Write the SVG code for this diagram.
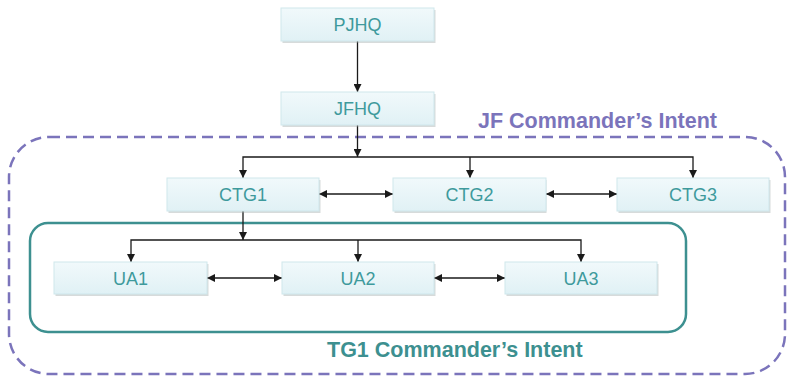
<svg xmlns="http://www.w3.org/2000/svg" width="787" height="376" viewBox="0 0 787 376">
<defs>
<linearGradient id="nodeFill" x1="0" y1="0" x2="0" y2="1">
<stop offset="0" stop-color="#f1f9fb"/>
<stop offset="1" stop-color="#e0f1f5"/>
</linearGradient>
<marker id="arr" viewBox="0 0 10 10" refX="10" refY="5" markerWidth="8" markerHeight="8" markerUnits="userSpaceOnUse" orient="auto-start-reverse">
<path d="M0,0 L10,5 L0,10 Z" fill="#1a1a1a"/>
</marker>
</defs>
<style>
.node rect.box{fill:url(#nodeFill);stroke:#cfe7ec;stroke-width:1}
.node rect.sh{fill:#9aa4a6;opacity:0.4}
.node text{font-family:"Liberation Sans",Arial,sans-serif;font-size:18px;fill:#3e9a9c;text-anchor:middle}
.conn path{fill:none;stroke:#1a1a1a;stroke-width:1.3}
.lbl{font-family:"Liberation Sans",Arial,sans-serif;font-size:21.5px;font-weight:bold}
</style>
<rect id="jf-boundary" x="9" y="137" width="776" height="237" rx="40" ry="40" fill="none" stroke="#7b74bb" stroke-width="2.5" stroke-dasharray="11 6"/>
<rect id="tg1-boundary" x="30" y="223" width="656" height="109" rx="18" ry="18" fill="none" stroke="#3d9090" stroke-width="2.5"/>
<text class="lbl" x="478" y="128" fill="#7b74bb">JF Commander’s Intent</text>
<text class="lbl" x="327" y="357" fill="#3d9090">TG1 Commander’s Intent</text>
<g id="connectors" class="conn">
<path d="M357.5,41 V92" marker-end="url(#arr)"/>
<path d="M357.5,125 V157" marker-end="url(#arr)"/>
<path d="M243,178 V157 H693 V178" marker-start="url(#arr)" marker-end="url(#arr)"/>
<path d="M470,157 V178" marker-end="url(#arr)"/>
<path d="M319,194 H393" marker-start="url(#arr)" marker-end="url(#arr)"/>
<path d="M546,194 H617" marker-start="url(#arr)" marker-end="url(#arr)"/>
<path d="M243,211 V240" marker-end="url(#arr)"/>
<path d="M131,262 V240 H581 V262" marker-start="url(#arr)" marker-end="url(#arr)"/>
<path d="M358,240 V262" marker-end="url(#arr)"/>
<path d="M207,278 H282" marker-start="url(#arr)" marker-end="url(#arr)"/>
<path d="M434,278 H505" marker-start="url(#arr)" marker-end="url(#arr)"/>
</g>
<g id="PJHQ" class="node"><rect class="sh" x="282.5" y="10" width="153" height="33"/><rect class="box" x="281" y="8" width="153" height="33"/><text x="357.5" y="31">PJHQ</text></g>
<g id="JFHQ" class="node"><rect class="sh" x="282.5" y="94" width="153" height="33"/><rect class="box" x="281" y="92" width="153" height="33"/><text x="357.5" y="115">JFHQ</text></g>
<g id="CTG1" class="node"><rect class="sh" x="168.5" y="180" width="152" height="33"/><rect class="box" x="167" y="178" width="152" height="33"/><text x="243" y="201">CTG1</text></g>
<g id="CTG2" class="node"><rect class="sh" x="394.5" y="180" width="152" height="33"/><rect class="box" x="393" y="178" width="153" height="33"/><text x="469.5" y="201">CTG2</text></g>
<g id="CTG3" class="node"><rect class="sh" x="618.5" y="180" width="152" height="33"/><rect class="box" x="617" y="178" width="152" height="33"/><text x="693" y="201">CTG3</text></g>
<g id="UA1" class="node"><rect class="sh" x="55.5" y="264" width="153" height="32"/><rect class="box" x="54" y="262" width="153" height="32"/><text x="130.5" y="284.5">UA1</text></g>
<g id="UA2" class="node"><rect class="sh" x="283.5" y="264" width="152" height="32"/><rect class="box" x="282" y="262" width="152" height="32"/><text x="358" y="284.5">UA2</text></g>
<g id="UA3" class="node"><rect class="sh" x="506.5" y="264" width="152" height="32"/><rect class="box" x="505" y="262" width="152" height="32"/><text x="581" y="284.5">UA3</text></g>
</svg>
